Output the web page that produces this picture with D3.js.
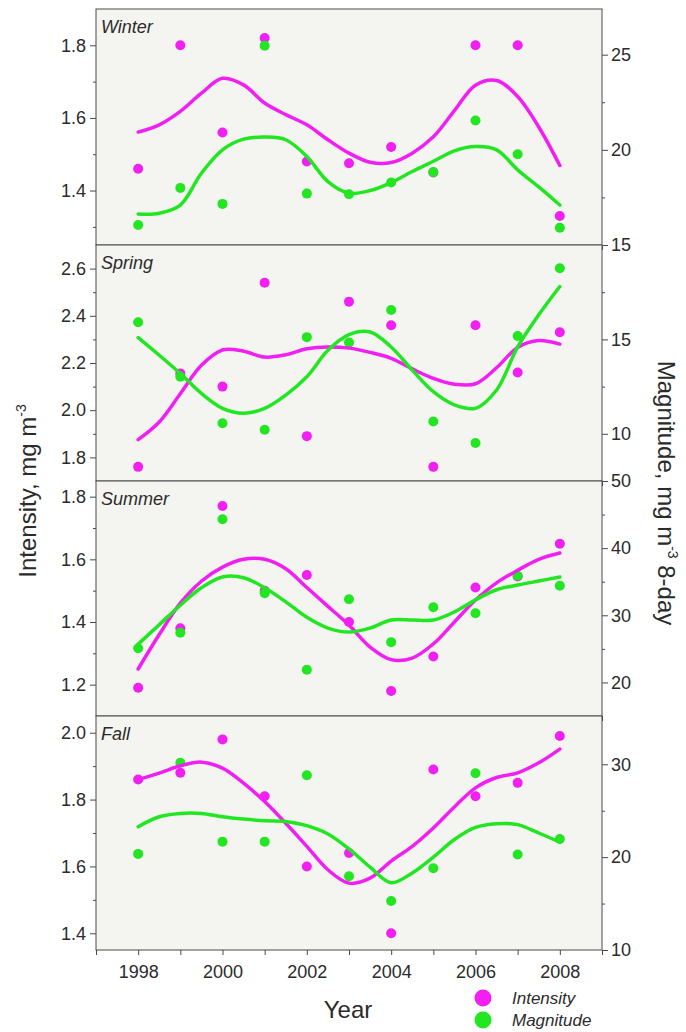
<!DOCTYPE html>
<html>
<head>
<meta charset="utf-8">
<script src="https://cdn.jsdelivr.net/npm/d3@7"></script>
<style>
  body { margin: 0; background: #fff; }
  svg { display: block; }
  text { font-family: "Liberation Sans", Arial, sans-serif; }
</style>
</head>
<body>
<svg id="chart" width="686" height="1032"></svg>
<script>
// ---- data -------------------------------------------------------------
const seasons = ["Winter", "Spring", "Summer", "Fall"];
const years = [1998, 1999, 2000, 2001, 2002, 2003, 2004, 2005, 2006, 2007, 2008];
const fitYears = [1998, 1998.5, 1999, 1999.5, 2000, 2000.5, 2001, 2001.5, 2002, 2002.5, 2003,
                  2003.5, 2004, 2004.5, 2005, 2005.5, 2006, 2006.5, 2007, 2007.5, 2008];
const yearTicks = [1997, 1998, 1999, 2000, 2001, 2002, 2003, 2004, 2005, 2006, 2007, 2008, 2009];
const yearLabels = [1998, 2000, 2002, 2004, 2006, 2008];

// Winter
const intensityWinter = [1.46, 1.80, 1.56, 1.82, 1.48, 1.475, 1.52, 1.45, 1.80, 1.80, 1.33];
const magnitudeWinter = [16.05, 18.0, 17.16, 25.47, 17.7, 17.67, 18.28, 18.83, 21.54, 19.77, 15.91];
const intensityFitWinter = [1.561, 1.581, 1.618, 1.668, 1.709, 1.691, 1.641, 1.609, 1.581, 1.540, 1.503,
                            1.478, 1.477, 1.503, 1.548, 1.620, 1.690, 1.703, 1.659, 1.575, 1.469];
const magnitudeFitWinter = [16.63, 16.67, 17.1, 18.77, 20.0, 20.56, 20.67, 20.53, 19.65, 18.33, 17.72,
                            17.86, 18.28, 18.86, 19.4, 19.95, 20.17, 20.0, 18.95, 18.05, 17.1];

// Spring
const intensitySpring = [1.76, 2.156, 2.10, 2.54, 1.89, 2.46, 2.36, 1.76, 2.36, 2.16, 2.33];
const magnitudeSpring = [15.91, 13.02, 10.56, 10.21, 15.12, 14.83, 16.56, 10.65, 9.51, 15.18, 18.77];
const intensityFitSpring = [1.875, 1.95, 2.07, 2.19, 2.255, 2.25, 2.225, 2.235, 2.26, 2.268, 2.263,
                            2.245, 2.22, 2.175, 2.135, 2.11, 2.112, 2.18, 2.266, 2.295, 2.28];
const magnitudeFitSpring = [15.09, 14.16, 13.19, 12.14, 11.35, 11.09, 11.35, 12.05, 13.02, 14.42, 15.25,
                            15.39, 14.6, 13.37, 12.23, 11.53, 11.35, 12.32, 14.6, 16.3, 17.8];

// Summer
const intensitySummer = [1.19, 1.38, 1.77, 1.50, 1.55, 1.40, 1.18, 1.29, 1.51, 1.545, 1.65];
const magnitudeSummer = [25.1, 27.4, 44.3, 33.3, 21.9, 32.4, 26.0, 31.2, 30.3, 35.9, 34.4];
const intensityFitSummer = [1.25, 1.36, 1.46, 1.53, 1.575, 1.60, 1.60, 1.57, 1.51, 1.45, 1.39,
                            1.32, 1.28, 1.285, 1.33, 1.40, 1.47, 1.525, 1.565, 1.60, 1.62];
const magnitudeFitSummer = [25.7, 28.6, 31.5, 34.1, 35.7, 35.6, 34.1, 32.0, 29.7, 28.1, 27.5,
                            28.1, 29.3, 29.3, 29.3, 30.5, 32.3, 33.8, 34.5, 35.1, 35.7];

// Fall
const intensityFall = [1.86, 1.88, 1.98, 1.81, 1.60, 1.64, 1.40, 1.89, 1.81, 1.85, 1.99];
const magnitudeFall = [20.35, 30.17, 21.67, 21.67, 28.82, 17.95, 15.27, 18.81, 29.04, 20.28, 21.96];
const intensityFitFall = [1.860, 1.879, 1.901, 1.912, 1.894, 1.849, 1.794, 1.729, 1.660, 1.590, 1.550,
                          1.565, 1.616, 1.660, 1.715, 1.778, 1.835, 1.866, 1.880, 1.910, 1.951];
const magnitudeFitFall = [23.28, 24.35, 24.71, 24.71, 24.35, 24.1, 23.92, 23.85, 23.39, 22.5, 20.89,
                          18.92, 17.25, 18.3, 20.0, 21.9, 23.2, 23.6, 23.5, 22.6, 21.6];

// Axis ticks
const intensityTicksWinter = [1.4, 1.6, 1.8];
const intensityMinorWinter = [1.3, 1.5, 1.7];
const magnitudeTicksWinter = [15, 20, 25];
const magnitudeMinorWinter = [17.5, 22.5];

const intensityTicksSpring = [1.8, 2.0, 2.2, 2.4, 2.6];
const intensityMinorSpring = [1.9, 2.1, 2.3, 2.5];
const magnitudeTicksSpring = [10, 15];
const magnitudeMinorSpring = [12.5, 17.5];

const intensityTicksSummer = [1.2, 1.4, 1.6, 1.8];
const intensityMinorSummer = [1.3, 1.5, 1.7];
const magnitudeTicksSummer = [20, 30, 40, 50];
const magnitudeMinorSummer = [25, 35, 45];

const intensityTicksFall = [1.4, 1.6, 1.8, 2.0];
const intensityMinorFall = [1.5, 1.7, 1.9];
const magnitudeTicksFall = [10, 20, 30];
const magnitudeMinorFall = [15, 25];

// ---- layout -----------------------------------------------------------
const plotLeft = 96, plotRight = 602;
const panelEdges = [9, 245, 481, 716, 950];
const magenta = "#f21ff2";
const green = "#22e622";
const panelFill = "#f4f5f1";
const axisColor = "#4a4a4a";
const textColor = "#2b2b2b";

const panels = [
  { name: seasons[0], iDom: [1.25, 1.9], mDom: [15, 27.4],
    inten: intensityWinter, mag: magnitudeWinter, iFit: intensityFitWinter, mFit: magnitudeFitWinter,
    iTicks: intensityTicksWinter, iMinor: intensityMinorWinter, mTicks: magnitudeTicksWinter, mMinor: magnitudeMinorWinter },
  { name: seasons[1], iDom: [1.7, 2.7], mDom: [7.5, 20],
    inten: intensitySpring, mag: magnitudeSpring, iFit: intensityFitSpring, mFit: magnitudeFitSpring,
    iTicks: intensityTicksSpring, iMinor: intensityMinorSpring, mTicks: magnitudeTicksSpring, mMinor: magnitudeMinorSpring },
  { name: seasons[2], iDom: [1.1, 1.85], mDom: [15, 50],
    inten: intensitySummer, mag: magnitudeSummer, iFit: intensityFitSummer, mFit: magnitudeFitSummer,
    iTicks: intensityTicksSummer, iMinor: intensityMinorSummer, mTicks: magnitudeTicksSummer, mMinor: magnitudeMinorSummer },
  { name: seasons[3], iDom: [1.35, 2.05], mDom: [10, 35.2],
    inten: intensityFall, mag: magnitudeFall, iFit: intensityFitFall, mFit: magnitudeFitFall,
    iTicks: intensityTicksFall, iMinor: intensityMinorFall, mTicks: magnitudeTicksFall, mMinor: magnitudeMinorFall }
];

const svg = d3.select("#chart");
const x = d3.scaleLinear().domain([1997, 2009]).range([plotLeft, plotRight]);

function styleAxis(g) {
  g.select(".domain").remove();
  g.selectAll(".tick line").attr("stroke", axisColor).attr("stroke-width", 1);
  g.selectAll(".tick text").attr("fill", textColor).attr("font-size", 18);
}

panels.forEach((p, i) => {
  const top = panelEdges[i], bottom = panelEdges[i + 1];
  const yI = d3.scaleLinear().domain(p.iDom).range([bottom, top]);
  const yM = d3.scaleLinear().domain(p.mDom).range([bottom, top]);
  const g = svg.append("g");

  g.append("rect").attr("x", plotLeft).attr("y", top)
    .attr("width", plotRight - plotLeft).attr("height", bottom - top)
    .attr("fill", panelFill);

  const clipId = "clip" + i;
  svg.append("clipPath").attr("id", clipId).append("rect")
    .attr("x", plotLeft).attr("y", top).attr("width", plotRight - plotLeft).attr("height", bottom - top);

  // left axis (intensity)
  g.append("g").attr("transform", `translate(${plotLeft},0)`)
    .call(d3.axisLeft(yI).tickValues(p.iTicks).tickSize(6).tickPadding(4).tickFormat(d3.format(".1f")))
    .call(styleAxis);
  g.append("g").attr("transform", `translate(${plotLeft},0)`)
    .call(d3.axisLeft(yI).tickValues(p.iMinor).tickSize(3).tickFormat(""))
    .call(styleAxis);

  // right axis (magnitude)
  g.append("g").attr("transform", `translate(${plotRight},0)`)
    .call(d3.axisRight(yM).tickValues(p.mTicks).tickSize(6).tickPadding(3).tickFormat(d3.format("d")))
    .call(styleAxis);
  g.append("g").attr("transform", `translate(${plotRight},0)`)
    .call(d3.axisRight(yM).tickValues(p.mMinor).tickSize(3).tickFormat(""))
    .call(styleAxis);

  // bottom year ticks
  const last = i === panels.length - 1;
  g.append("g").attr("transform", `translate(0,${bottom})`)
    .call(d3.axisBottom(x).tickValues(yearTicks).tickSize(5).tickPadding(10)
      .tickFormat(d => (last && yearLabels.includes(d)) ? String(d) : ""))
    .call(styleAxis);

  // fitted curves
  const lineI = d3.line().x((d, k) => x(fitYears[k])).y(d => yI(d)).curve(d3.curveCatmullRom.alpha(0.5));
  const lineM = d3.line().x((d, k) => x(fitYears[k])).y(d => yM(d)).curve(d3.curveCatmullRom.alpha(0.5));

  const data = g.append("g").attr("clip-path", `url(#${clipId})`);
  data.selectAll("circle.i").data(p.inten).join("circle").attr("class", "i")
    .attr("cx", (d, k) => x(years[k])).attr("cy", d => yI(d)).attr("r", 5).attr("fill", magenta);
  data.selectAll("circle.m").data(p.mag).join("circle").attr("class", "m")
    .attr("cx", (d, k) => x(years[k])).attr("cy", d => yM(d)).attr("r", 5).attr("fill", green);
  data.append("path").datum(p.iFit).attr("d", lineI)
    .attr("fill", "none").attr("stroke", magenta).attr("stroke-width", 3.5).attr("stroke-linecap", "round");
  data.append("path").datum(p.mFit).attr("d", lineM)
    .attr("fill", "none").attr("stroke", green).attr("stroke-width", 3.5).attr("stroke-linecap", "round");

  // frame
  g.append("rect").attr("x", plotLeft).attr("y", top)
    .attr("width", plotRight - plotLeft).attr("height", bottom - top)
    .attr("fill", "none").attr("stroke", axisColor).attr("stroke-width", 1);

  g.append("text").attr("x", plotLeft + 5).attr("y", top + 24)
    .attr("font-size", 18).attr("font-style", "italic").attr("fill", textColor)
    .text(p.name);
});

// axis titles
const leftTitle = svg.append("text")
  .attr("transform", "translate(36,491) rotate(-90)")
  .attr("text-anchor", "middle").attr("font-size", 24).attr("fill", textColor);
leftTitle.append("tspan").text("Intensity, mg m");
leftTitle.append("tspan").attr("dy", -10).attr("font-size", 14).text("-3");

const rightTitle = svg.append("text")
  .attr("transform", "translate(658,493) rotate(90)")
  .attr("text-anchor", "middle").attr("font-size", 24).attr("fill", textColor);
rightTitle.append("tspan").text("Magnitude, mg m");
rightTitle.append("tspan").attr("dy", -10).attr("font-size", 14).text("-3");
rightTitle.append("tspan").attr("dy", 10).text(" 8-day");

svg.append("text").attr("x", 348).attr("y", 1018).attr("text-anchor", "middle")
  .attr("font-size", 24).attr("fill", textColor).text("Year");

// legend
const legendItems = [
  { label: "Intensity", color: magenta },
  { label: "Magnitude", color: green }
];
const legend = svg.append("g");
legendItems.forEach((d, k) => {
  const cy = 998 + k * 22;
  legend.append("circle").attr("cx", 483).attr("cy", cy).attr("r", 8.5).attr("fill", d.color);
  legend.append("text").attr("x", 512).attr("y", cy + 6).attr("font-size", 17)
    .attr("font-style", "italic").attr("fill", textColor).text(d.label);
});
</script>
</body>
</html>
